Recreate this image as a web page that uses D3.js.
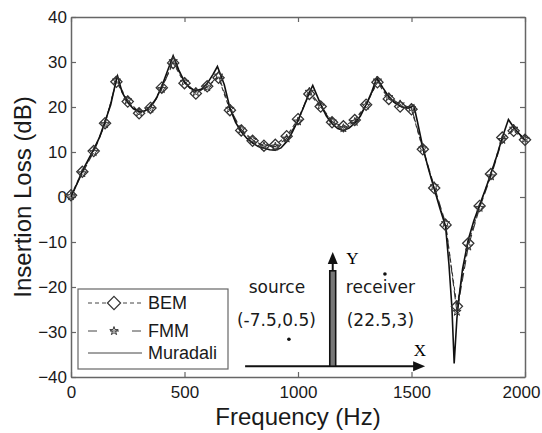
<!DOCTYPE html>
<html>
<head>
<meta charset="utf-8">
<script src="https://cdn.jsdelivr.net/npm/d3@7"></script>
<style>
  body { margin: 0; background: #fff; }
  svg { display: block; }
</style>
</head>
<body>
<div id="chart"></div>
<script>
// Data: BEM and FMM sampled every 50 Hz, Muradali denser
var freq50 = [0, 50, 100, 150, 200, 250, 300, 350, 400, 450, 500, 550, 600, 650, 700,
  750, 800, 850, 900, 950, 1000, 1050, 1100, 1150, 1200, 1250, 1300, 1350, 1400,
  1450, 1500, 1550, 1600, 1650, 1700, 1750, 1800, 1850, 1900, 1950, 2000];
var bem = [0.4, 5.6, 10.2, 16.4, 25.6, 21.2, 18.6, 19.8, 24.3, 29.8, 25.3, 23.0, 24.6,
  26.5, 19.3, 14.8, 12.5, 11.4, 11.6, 13.5, 17.3, 22.9, 20.1, 16.6, 15.7, 17.1, 20.5,
  25.5, 21.8, 20.1, 19.5, 10.6, 2.0, -6.2, -24.3, -10.3, -2.0, 5.1, 13.2, 14.7, 12.7];
var fmm = [0.2, 5.3, 10.0, 16.2, 25.9, 21.5, 18.8, 19.6, 24.0, 30.2, 25.6, 23.3, 24.4,
  27.0, 19.6, 15.0, 12.7, 11.3, 11.2, 13.0, 16.8, 23.4, 20.3, 16.8, 15.3, 16.7, 20.3,
  25.9, 22.2, 20.6, 19.8, 10.8, 2.4, -5.8, -25.5, -11.0, -2.4, 4.6, 12.7, 15.2, 12.9];

var freqM = [0, 25, 50, 75, 100, 125, 150, 175, 200, 205, 225, 250, 275, 300, 325, 350,
  375, 400, 425, 450, 475, 500, 525, 550, 575, 600, 625, 645, 675, 700, 725, 750, 775,
  800, 825, 850, 875, 900, 925, 950, 975, 1000, 1025, 1050, 1065, 1100, 1125, 1150,
  1175, 1200, 1225, 1250, 1275, 1300, 1325, 1347, 1375, 1400, 1425, 1450, 1475, 1500,
  1510, 1525, 1550, 1575, 1600, 1625, 1650, 1665, 1678, 1688, 1700, 1710, 1725, 1750,
  1775, 1800, 1825, 1850, 1875, 1900, 1927, 1950, 1975, 2000];
var muradali = [0, 2.8, 5.8, 8.2, 10.6, 13.2, 16.8, 20.5, 26.2, 26.9, 23.3, 21.0, 19.6,
  19.0, 19.1, 20.2, 21.8, 24.6, 28.0, 31.4, 28.2, 25.6, 24.2, 23.6, 24.0, 25.2, 27.2,
  29.0, 25.0, 19.8, 16.6, 14.5, 13.0, 12.0, 11.2, 10.9, 10.5, 10.4, 10.9, 12.3, 14.4,
  17.0, 20.0, 23.2, 24.8, 20.6, 18.0, 16.3, 15.2, 14.8, 15.3, 16.4, 18.0, 20.5, 23.4,
  26.5, 24.2, 22.3, 21.0, 20.2, 19.8, 20.0, 20.4, 17.0, 11.0, 6.2, 1.8, -2.5, -6.5,
  -15.0, -24.5, -37.0, -27.0, -22.0, -16.0, -9.5, -5.2, -1.8, 1.6, 5.2, 9.0, 13.2, 17.2,
  15.5, 14.0, 12.6];

var xTicks = [0, 500, 1000, 1500, 2000];
var yTicks = [-40, -30, -20, -10, 0, 10, 20, 30, 40];
var seriesNames = ['BEM', 'FMM', 'Muradali'];

// Setting up the margins and the graph area
var W = 542, H = 433;
var margin = { top: 17, right: 17, bottom: 56, left: 71 },
    width = W - margin.left - margin.right,
    height = H - margin.top - margin.bottom;

var sans = '"Liberation Sans", Arial, Helvetica, sans-serif';

var svg = d3.select('#chart').append('svg')
    .attr('width', W)
    .attr('height', H);

var g = svg.append('g')
    .attr('transform', 'translate(' + margin.left + ',' + margin.top + ')');

var x = d3.scaleLinear().domain([0, 2000]).range([0, width]);
var y = d3.scaleLinear().domain([-40, 40]).range([height, 0]);

var frameColor = '#666';
var fmtInt = d3.format('d');

function styleAxis(sel, showLabels) {
  sel.select('.domain').attr('stroke', frameColor).attr('stroke-width', 1.5);
  sel.selectAll('.tick line').attr('stroke', frameColor).attr('stroke-width', 1.2);
  sel.selectAll('.tick text')
    .style('font', 'normal 17px ' + sans)
    .attr('fill', '#1a1a1a');
  if (!showLabels) sel.selectAll('.tick text').remove();
}

// Axes, ticks pointing inward (box style)
var xAxisG = g.append('g')
    .attr('transform', 'translate(0,' + height + ')')
    .call(d3.axisBottom(x).tickValues(xTicks).tickFormat(fmtInt)
      .tickSize(-5).tickSizeOuter(0).tickPadding(9))
    .call(styleAxis, true);
// last label sits a bit left so it stays inside the page
xAxisG.selectAll('.tick text').filter(function (d) { return d === 2000; }).attr('dx', -4);

g.append('g')
    .call(d3.axisTop(x).tickValues(xTicks).tickSize(-5).tickSizeOuter(0))
    .call(styleAxis, false);

g.append('g')
    .call(d3.axisLeft(y).tickValues(yTicks).tickFormat(fmtInt)
      .tickSize(-5).tickSizeOuter(0).tickPadding(4))
    .call(styleAxis, true);

g.append('g')
    .attr('transform', 'translate(' + width + ',0)')
    .call(d3.axisRight(y).tickValues(yTicks).tickSize(-5).tickSizeOuter(0))
    .call(styleAxis, false);

// Axis labels
svg.append('text')
    .attr('x', margin.left + width / 2)
    .attr('y', 425)
    .attr('text-anchor', 'middle')
    .style('font', 'normal 24px ' + sans)
    .attr('fill', '#1a1a1a')
    .text('Frequency (Hz)');

svg.append('text')
    .attr('transform', 'translate(31,' + (margin.top + height / 2) + ') rotate(-90)')
    .attr('text-anchor', 'middle')
    .style('font', 'normal 24px ' + sans)
    .attr('fill', '#1a1a1a')
    .text('Insertion Loss (dB)');

// Lines
var line = d3.line()
    .x(function (d) { return x(d[0]); })
    .y(function (d) { return y(d[1]); });

var bemData = d3.zip(freq50, bem);
var fmmData = d3.zip(freq50, fmm);
var murData = d3.zip(freqM, muradali);

g.append('path').datum(bemData)
    .attr('d', line).attr('fill', 'none')
    .attr('stroke', '#333').attr('stroke-width', 1.1)
    .attr('stroke-dasharray', '4,3');

g.append('path').datum(fmmData)
    .attr('d', line).attr('fill', 'none')
    .attr('stroke', '#333').attr('stroke-width', 1.1)
    .attr('stroke-dasharray', '9,4');

g.append('path').datum(murData)
    .attr('d', line).attr('fill', 'none')
    .attr('stroke', '#111').attr('stroke-width', 1.6);

// Markers
var diamond = d3.symbol().type(d3.symbolDiamond2).size(80);
var star = d3.symbol().type(d3.symbolStar).size(22);

g.selectAll('.bem-pt').data(bemData).enter().append('path')
    .attr('class', 'bem-pt')
    .attr('transform', function (d) { return 'translate(' + x(d[0]) + ',' + y(d[1]) + ')'; })
    .attr('d', diamond)
    .attr('fill', 'none').attr('stroke', '#333').attr('stroke-width', 1.3);

g.selectAll('.fmm-pt').data(fmmData).enter().append('path')
    .attr('class', 'fmm-pt')
    .attr('transform', function (d) { return 'translate(' + x(d[0]) + ',' + y(d[1]) + ')'; })
    .attr('d', star)
    .attr('fill', 'none').attr('stroke', '#333').attr('stroke-width', 1);

// Legend
var legend = svg.append('g').attr('transform', 'translate(78,289)');
legend.append('rect')
    .attr('width', 150).attr('height', 80)
    .attr('fill', '#fff').attr('stroke', frameColor).attr('stroke-width', 1.2);

var legRows = [14, 42, 64];
var legDash = ['4,3', '9,13', null];
seriesNames.forEach(function (name, i) {
  var row = legend.append('g').attr('transform', 'translate(0,' + legRows[i] + ')');
  row.append('line')
      .attr('x1', 10).attr('x2', 64)
      .attr('stroke', '#444').attr('stroke-width', 1)
      .attr('stroke-dasharray', legDash[i]);
  if (i === 0) {
    row.append('rect').attr('x', 28).attr('y', -8).attr('width', 16).attr('height', 16).attr('fill', '#fff');
    row.append('path').attr('transform', 'translate(36,0)').attr('d', d3.symbol().type(d3.symbolDiamond2).size(110))
        .attr('fill', 'none').attr('stroke', '#333').attr('stroke-width', 1.2);
  }
  if (i === 1) {
    row.append('path').attr('transform', 'translate(36,0)').attr('d', star)
        .attr('fill', 'none').attr('stroke', '#333').attr('stroke-width', 1);
  }
  row.append('text')
      .attr('x', 70).attr('dy', '0.35em')
      .style('font', 'normal 18px ' + sans)
      .attr('fill', '#1a1a1a')
      .text(name);
});

// Inset sketch of source / barrier / receiver, placed in chart units
var inset = g.append('g');
var baseDb = -37.6, xArrowEnd = 1560, xArrowStart = 767;
var wallF = [1140, 1166], wallTop = -16.4, yAxisF = 1153, yArrowTop = -12.2;

inset.append('line')
    .attr('x1', x(xArrowStart)).attr('x2', x(xArrowEnd) - 8)
    .attr('y1', y(baseDb)).attr('y2', y(baseDb))
    .attr('stroke', '#111').attr('stroke-width', 2);
inset.append('path')
    .attr('d', 'M' + x(xArrowEnd) + ',' + y(baseDb) + 'l-12,-5l0,10z')
    .attr('fill', '#111');

inset.append('line')
    .attr('x1', x(yAxisF)).attr('x2', x(yAxisF))
    .attr('y1', y(baseDb)).attr('y2', y(yArrowTop) + 8)
    .attr('stroke', '#111').attr('stroke-width', 2);
inset.append('path')
    .attr('d', 'M' + x(yAxisF) + ',' + y(yArrowTop) + 'l-5,12l10,0z')
    .attr('fill', '#111');

inset.append('rect')
    .attr('x', x(wallF[0])).attr('width', x(wallF[1]) - x(wallF[0]))
    .attr('y', y(wallTop)).attr('height', y(baseDb) - y(wallTop))
    .attr('fill', '#777').attr('stroke', '#111').attr('stroke-width', 1.6);

var serif = '"Liberation Serif", "Times New Roman", serif';
inset.append('text').attr('x', x(1240)).attr('y', y(-13.6)).attr('dy', '0.35em')
    .attr('text-anchor', 'middle').style('font', 'normal 17px ' + serif).text('Y');
inset.append('text').attr('x', x(1537)).attr('y', y(-34)).attr('dy', '0.35em')
    .attr('text-anchor', 'middle').style('font', 'normal 17px ' + serif).text('X');

var dv = '"DejaVu Sans", Verdana, sans-serif';
var insetLabels = [
  { f: 907, db: -21.3, t: 'source' },
  { f: 905, db: -28.7, t: '(-7.5,0.5)' },
  { f: 1363, db: -21.3, t: 'receiver' },
  { f: 1363, db: -28.7, t: '(22.5,3)' }
];
insetLabels.forEach(function (d) {
  inset.append('text').attr('x', x(d.f)).attr('y', y(d.db))
      .attr('text-anchor', 'middle').style('font', 'normal 17px ' + dv)
      .attr('fill', '#1a1a1a').text(d.t);
});

inset.selectAll('.pt').data([[960, -31.6], [1383, -17.1]]).enter().append('circle')
    .attr('cx', function (d) { return x(d[0]); })
    .attr('cy', function (d) { return y(d[1]); })
    .attr('r', 1.8).attr('fill', '#111');
</script>
</body>
</html>
